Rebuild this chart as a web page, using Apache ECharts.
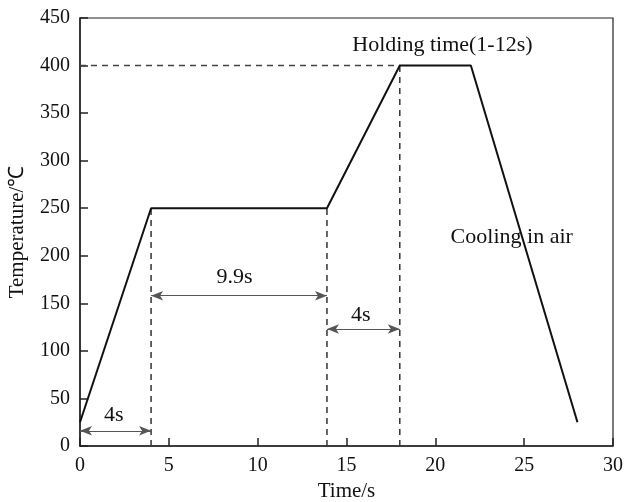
<!DOCTYPE html>
<html><head><meta charset="utf-8">
<script src="https://cdn.jsdelivr.net/npm/echarts@6/dist/echarts.min.js"></script>
<style>html,body{margin:0;padding:0;background:#fff}#c{width:626px;height:502px}</style>
</head><body><div id="c"></div>
<script>
const timeData = [0, 4, 13.9, 18, 22, 28];
const tempData = [25, 250, 250, 400, 400, 25];
const holdLevel = 400;
const dashedX = [4, 13.9, 18];
const dashedTop = [250, 250, 400];
const arrows = [
  {from: 0, to: 4, y: 16},
  {from: 4, to: 13.9, y: 158},
  {from: 13.9, to: 18, y: 123}
];
const annotations = [
  {x: 1.9, y: 32, text: '4s'},
  {x: 8.7, y: 177, text: '9.9s'},
  {x: 15.8, y: 137, text: '4s'},
  {x: 20.4, y: 421, text: 'Holding time(1-12s)'},
  {x: 24.3, y: 220, text: 'Cooling in air'}
];
const xTicks = [0, 5, 10, 15, 20, 25, 30];
const yTicks = [0, 50, 100, 150, 200, 250, 300, 350, 400, 450];

const font = 'Liberation Serif, Times New Roman, serif';
const chart = echarts.init(document.getElementById('c'));
const series = [];
series.push({
  type: 'line', data: timeData.map((t, i) => [t, tempData[i]]),
  symbol: 'none', lineStyle: {color: '#111', width: 2}, z: 5, animation: false
});
series.push({
  type: 'line', data: [[0, holdLevel], [dashedX[2], holdLevel]], symbol: 'none',
  lineStyle: {color: '#444', width: 1.5, type: [6, 5]}, animation: false
});
dashedX.forEach((x, i) => {
  series.push({
    type: 'line', data: [[x, 0], [x, dashedTop[i]]], symbol: 'none',
    lineStyle: {color: '#333', width: 1.5, type: [6, 5]}, animation: false
  });
});
series.push({
  type: 'line', data: [], symbol: 'none', animation: false,
  markLine: {
    silent: true, animation: false,
    symbol: ['arrow', 'arrow'], symbolSize: [7, 12],
    label: {show: false},
    lineStyle: {color: '#555', width: 1.2, type: 'solid'},
    itemStyle: {color: '#111'},
    emphasis: {disabled: true},
    data: arrows.map(a => [{coord: [a.from, a.y]}, {coord: [a.to, a.y]}])
  }
});
series.push({
  type: 'scatter', symbolSize: 0, animation: false,
  itemStyle: {color: '#111', opacity: 1},
  data: annotations.map(a => ({value: [a.x, a.y], name: a.text})),
  label: {show: true, position: 'inside', formatter: p => p.name,
    fontFamily: font, fontSize: 22, color: '#111', opacity: 1, textBorderWidth: 0, textBorderColor: 'transparent'},
  emphasis: {disabled: true}
});

chart.setOption({
  animation: false,
  grid: {left: 80, right: 13, top: 18, bottom: 56, outerBoundsMode: 'none', containLabel: false,
    show: true, borderColor: '#222', borderWidth: 1.2, backgroundColor: 'transparent'},
  xAxis: {
    type: 'value', min: xTicks[0], max: xTicks[xTicks.length - 1], interval: 5,
    name: 'Time/s', nameLocation: 'middle', nameGap: 35,
    nameTextStyle: {fontFamily: font, fontSize: 21, color: '#111'},
    axisLine: {show: true, lineStyle: {color: '#222', width: 1.5}},
    axisTick: {show: true, inside: true, length: 8, lineStyle: {color: '#222', width: 1.5}},
    axisLabel: {fontFamily: font, fontSize: 20, color: '#111', margin: 10},
    splitLine: {show: false}
  },
  yAxis: {
    type: 'value', min: yTicks[0], max: yTicks[yTicks.length - 1], interval: 50,
    name: 'Temperature/℃', nameLocation: 'middle', nameGap: 52,
    nameTextStyle: {fontFamily: font, fontSize: 21, color: '#111'},
    axisLine: {show: true, lineStyle: {color: '#222', width: 1.5}},
    axisTick: {show: true, inside: true, length: 8, lineStyle: {color: '#222', width: 1.5}},
    axisLabel: {fontFamily: font, fontSize: 20, color: '#111', margin: 10},
    splitLine: {show: false}
  },
  series: series
});
</script></body></html>
